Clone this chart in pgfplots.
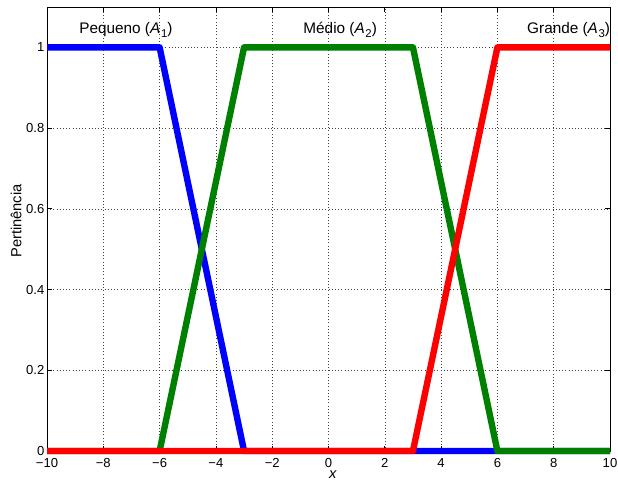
\documentclass[border=0pt]{standalone}
\usepackage{fontspec}
\setmainfont{Liberation Sans}
\usepackage{pgfplots}
\pgfplotsset{compat=1.18}

\definecolor{mblue}{rgb}{0,0,1}
\definecolor{mgreen}{rgb}{0,0.5,0}
\definecolor{mred}{rgb}{1,0,0}
\newcommand{\sub}[1]{\kern0.5pt\raisebox{-0.3em}{\fontsize{8.5}{9}\selectfont #1}}

\begin{document}
\begin{tikzpicture}
\begin{axis}[
    scale only axis,
    width=422.25pt, height=333pt,
    xmin=-10, xmax=10, ymin=0, ymax=1.1,
    xtick={-10,-8,...,10},
    xticklabels={−10,−8,−6,−4,−2,0,2,4,6,8,10},
    ytick={0,0.2,0.4,0.6,0.8,1},
    yticklabels={0,0.2,0.4,0.6,0.8,1},
    tick align=inside,
    major tick length=4pt,
    tick style={black, line width=0.5pt},
    axis line style={line width=0.6pt},
    grid=major,
    grid style={black!75, dotted, line width=0.45pt},
    ticklabel style={font=\fontsize{9.8}{10}\selectfont},
    xticklabel style={yshift=-2.3pt},
    yticklabel style={xshift=1.5pt},
    xlabel={\textit{x}},
    ylabel={Pertinência},
    label style={font=\fontsize{11}{12}\selectfont},
    xlabel style={at={(rel axis cs:0.508,-0.053)}, anchor=center},
    ylabel style={at={(rel axis cs:-0.055,0.518)}, anchor=center},
    clip=false,
    line join=round,
]
\addplot[mblue, line width=4.8pt] coordinates {(-10,1) (-6,1) (-3,0) (10,0)};
\addplot[mgreen, line width=4.8pt] coordinates {(-10,0) (-6,0) (-3,1) (3,1) (6,0) (10,0)};
\addplot[mred, line width=4.8pt] coordinates {(-10,0) (3,0) (6,1) (10,1)};
\node[anchor=base west, font=\fontsize{11.5}{12}\selectfont, inner sep=0pt] at (axis cs:-8.86,1.035) {Pequeno (\textit{A}\sub{1})};
\node[anchor=base west, font=\fontsize{11.5}{12}\selectfont, inner sep=0pt] at (axis cs:-0.9,1.035) {Médio (\textit{A}\sub{2})};
\node[anchor=base west, font=\fontsize{11.5}{12}\selectfont, inner sep=0pt] at (axis cs:7.05,1.035) {Grande (\textit{A}\sub{3})};
\coordinate (bl) at (rel axis cs:-0.0835,-0.0653);
\coordinate (tr) at (rel axis cs:1.0142,1.0158);
\end{axis}
\pgfresetboundingbox
\useasboundingbox (bl) rectangle (tr);
\end{tikzpicture}
\end{document}
